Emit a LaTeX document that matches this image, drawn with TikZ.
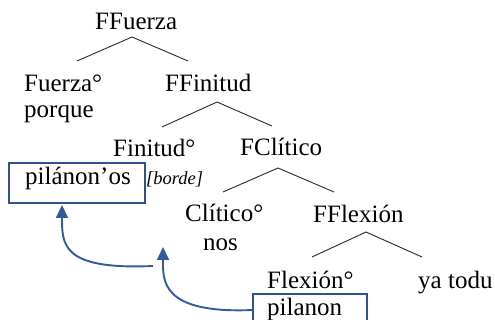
\documentclass[tikz,border=0pt]{standalone}
\usepackage{fontspec}
\setmainfont{Liberation Serif}
\usetikzlibrary{arrows.meta}
\definecolor{boxblue}{RGB}{47,82,143}
\definecolor{arrowblue}{RGB}{52,90,158}
\definecolor{branch}{RGB}{40,40,40}
\begin{document}
\begin{tikzpicture}[x=1pt,y=-1pt,
  lbl/.style={inner sep=0pt,anchor=base west,font=\fontsize{25}{26}\selectfont},
  note/.style={inner sep=0pt,anchor=base west,font=\fontsize{18.5}{20}\selectfont\itshape},
  branchline/.style={draw=branch,line width=0.9pt},
  wordbox/.style={draw=boxblue,line width=1.8pt},
  move/.style={draw=arrowblue,line width=1.9pt,-{Triangle[length=13pt,width=12pt]}}]
\useasboundingbox (0,0) rectangle (495,320);

% labels of the tree
\node[lbl] (ffuerza) at (95,30) {FFuerza};
\node[lbl] (fuerza) at (24,92) {Fuerza°};
\node[lbl] (porque) at (24,118) {porque};
\node[lbl] (ffinitud) at (165,92) {FFinitud};
\node[lbl] (finitud) at (113,157) {Finitud°};
\node[lbl] (fclitico) at (240,156) {FClítico};
\node[lbl] (clitico) at (185,222) {Clítico°};
\node[lbl] (nos) at (203,251) {nos};
\node[lbl] (fflexion) at (313,223) {FFlexión};
\node[lbl] (flexion) at (267,288) {Flexión°};
\node[lbl] (yatodu) at (418,288) {ya todu};

% boxed words
\draw[wordbox] (9,163) rectangle (145,203);
\node[lbl] (pilanos) at (25,185) {pilánon’os};
\node[note] (borde) at (146,185) {[borde]};
\draw[wordbox] (253,294) rectangle (367,324);
\node[lbl] (pilanon) at (267,315) {pilanon};

% branch points
\coordinate (a1) at (132,37);
\coordinate (a1l) at (77,61);
\coordinate (a1r) at (188,61);
\coordinate (a2) at (217,102);
\coordinate (a2l) at (162,127);
\coordinate (a2r) at (272,126);
\coordinate (a3) at (278,168);
\coordinate (a3l) at (223,192);
\coordinate (a3r) at (334,192);
\coordinate (a4) at (366,232);
\coordinate (a4l) at (312,257);
\coordinate (a4r) at (422,257);

\draw[branchline] (a1l) -- (a1) -- (a1r);
\draw[branchline] (a2l) -- (a2) -- (a2r);
\draw[branchline] (a3l) -- (a3) -- (a3r);
\draw[branchline] (a4l) -- (a4) -- (a4r);

% movement arrows
\coordinate (m1s) at (153,266);
\coordinate (m1e) at (62,205);
\coordinate (m2s) at (253,310);
\coordinate (m2e) at (163,247);
\draw[move] (m2s) .. controls (160,314) and (163,280) .. (m2e);
\draw[move] (m1s) .. controls (62,270) and (62,245) .. (m1e);
\end{tikzpicture}
\end{document}
